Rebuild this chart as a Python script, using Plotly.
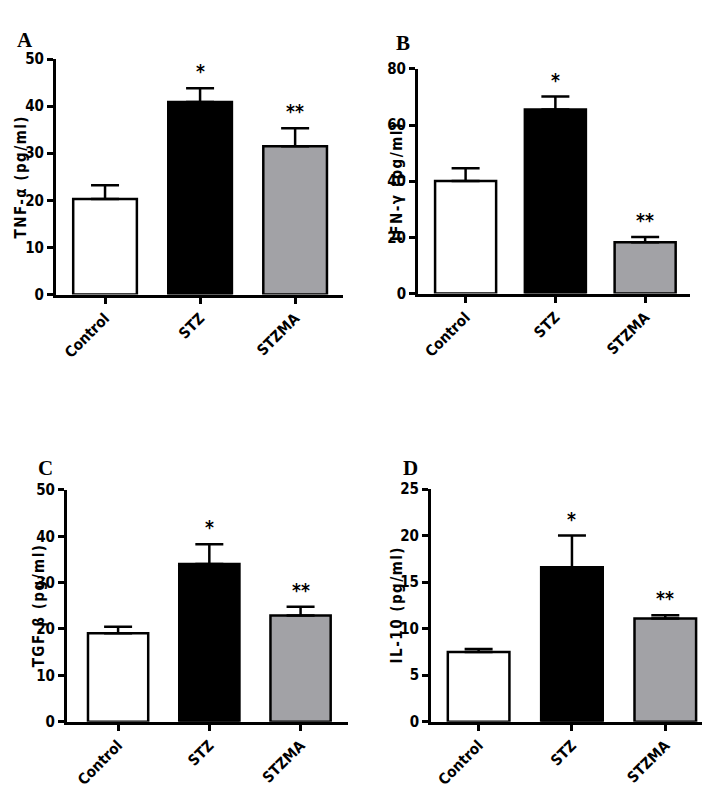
import plotly.graph_objects as go

groups = ["Control", "STZ", "STZMA"]
bar_colors = ["#ffffff", "#000000", "#a2a2a6"]

tnf_mean = [20.3, 40.9, 31.5]
tnf_err = [2.9, 2.9, 3.8]
ifn_mean = [40.1, 65.5, 18.3]
ifn_err = [4.5, 4.6, 1.8]
tgf_mean = [19.1, 34.0, 22.9]
tgf_err = [1.4, 4.3, 1.9]
il10_mean = [7.5, 16.6, 11.1]
il10_err = [0.3, 3.4, 0.35]

sig_marks = ["", "*", "**"]

panels = [
    dict(letter="A", title="TNF-α (pg/ml)", mean=tnf_mean, err=tnf_err, yrange=[0, 50], dtick=10,
         xdom=[0.0676, 0.472], ydom=[0.640, 0.9455], xr=[-0.516, 2.505], width=0.67,
         title_x=0.018, letter_xy=(0.010, 0.988)),
    dict(letter="B", title="IFN-γ (pg/ml)", mean=ifn_mean, err=ifn_err, yrange=[0, 80], dtick=20,
         xdom=[0.5775, 0.9606], ydom=[0.6413, 0.9328], xr=[-0.53, 2.5], width=0.68,
         title_x=0.548, letter_xy=(0.543, 0.985)),
    dict(letter="C", title="TGF-β (pg/ml)", mean=tgf_mean, err=tgf_err, yrange=[0, 50], dtick=10,
         xdom=[0.0831, 0.4789], ydom=[0.0860, 0.3866], xr=[-0.56, 2.52], width=0.66,
         title_x=0.043, letter_xy=(0.040, 0.433)),
    dict(letter="D", title="IL-10 (pg/ml)", mean=il10_mean, err=il10_err, yrange=[0, 25], dtick=5,
         xdom=[0.5958, 0.9915], ydom=[0.0860, 0.3878], xr=[-0.51, 2.5], width=0.66,
         title_x=0.548, letter_xy=(0.553, 0.433)),
]

narrow = "DejaVu Sans Condensed, Liberation Sans Narrow, Arial Narrow, sans-serif"
tick_font = dict(family=narrow, size=15, color="black", weight="bold")
xtick_font = dict(family=narrow, size=15, color="black", weight="bold")

fig = go.Figure()
annotations = []
for i, p in enumerate(panels, start=1):
    xa = "x" if i == 1 else f"x{i}"
    ya = "y" if i == 1 else f"y{i}"
    fig.add_trace(go.Bar(
        x=groups, y=p["mean"], xaxis=xa, yaxis=ya,
        marker=dict(color=bar_colors, line=dict(color="black", width=2.5)),
        width=p["width"],
        error_y=dict(type="data", symmetric=False, array=p["err"], arrayminus=[0, 0, 0],
                     color="black", thickness=2.5, width=14),
        showlegend=False, hoverinfo="skip",
    ))
    axis_common = dict(showline=True, linecolor="black", linewidth=3, ticks="outside",
                       tickwidth=2.5, ticklen=6, tickcolor="black", showgrid=False,
                       zeroline=False)
    fig.update_layout(**{
        ("xaxis" if i == 1 else f"xaxis{i}"): dict(
            domain=p["xdom"], anchor=ya, range=p["xr"], tickangle=-45,
            type="category", tickfont=xtick_font, **axis_common),
        ("yaxis" if i == 1 else f"yaxis{i}"): dict(
            domain=p["ydom"], anchor=xa, range=p["yrange"], dtick=p["dtick"],
            tickfont=tick_font, **axis_common),
    })
    # significance marks
    for g, m, e, s in zip(groups, p["mean"], p["err"], sig_marks):
        if s:
            annotations.append(dict(x=g, y=m + e, xref=xa, yref=ya, text=s, showarrow=False,
                                    yanchor="bottom", yshift=4,
                                    font=dict(family=narrow, size=19, color="black",
                                              weight="bold")))
    # y-axis title
    annotations.append(dict(x=p["title_x"], y=(p["ydom"][0] + p["ydom"][1]) / 2, xref="paper",
                            yref="paper",
                            text='<span style="letter-spacing:1.5px">' + p["title"] + "</span>",
                            textangle=-90, showarrow=False,
                            xanchor="center", yanchor="middle",
                            font=dict(family=narrow, size=15, color="black", weight="bold")))
    # panel letter
    annotations.append(dict(x=p["letter_xy"][0], y=p["letter_xy"][1], xref="paper", yref="paper",
                            text=p["letter"], showarrow=False, xanchor="left", yanchor="top",
                            font=dict(family="Liberation Serif", size=21, color="black",
                                      weight="bold")))

fig.update_layout(width=710, height=789, margin=dict(l=0, r=0, t=0, b=0),
                  plot_bgcolor="white", paper_bgcolor="white", annotations=annotations,
                  bargap=0.3)

fig.write_html("out.html")
